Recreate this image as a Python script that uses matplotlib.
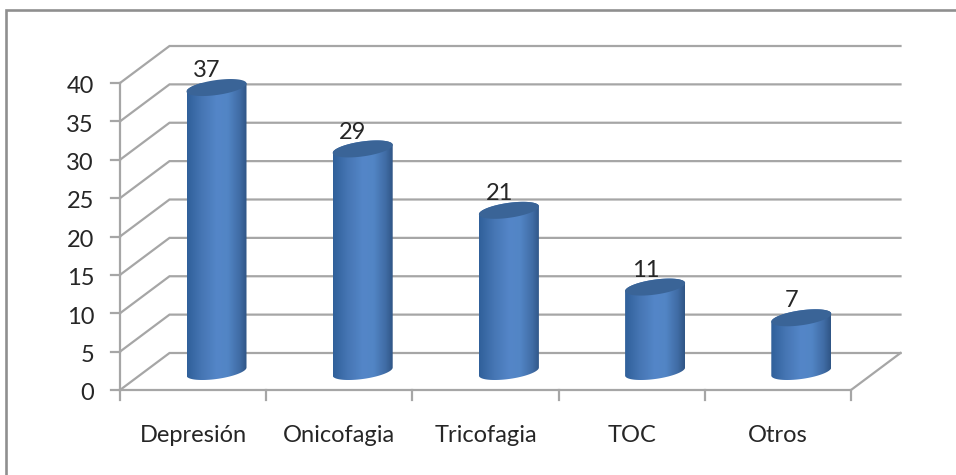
import numpy as np
import matplotlib
matplotlib.use('Agg')
import matplotlib.pyplot as plt
from matplotlib.colors import LinearSegmentedColormap
from matplotlib.lines import Line2D
from matplotlib.patches import Polygon

plt.rcParams['font.family'] = ['Lato', 'DejaVu Sans']

categorias = ['Depresión', 'Onicofagia', 'Tricofagia', 'TOC', 'Otros']
valores = [37, 29, 21, 11, 7]
ticks_y = [0, 5, 10, 15, 20, 25, 30, 35, 40]

W, H = 956, 475
GRIS = '#a6a6a6'
TEXTO = '#262626'
FUENTE = 17

fig = plt.figure(figsize=(W / 100, H / 100), dpi=100)

# marco exterior: solo arriba e izquierda
fig.add_artist(Line2D([5.5 / W, 5.5 / W, 1], [0, 1 - 9.5 / H, 1 - 9.5 / H], color='#8f8f8f',
                      lw=1.9, solid_joinstyle='miter', transform=fig.transFigure))

# el plano frontal del 3D es el eje normal
ax = fig.add_axes([120 / W, 1 - 390 / H, 731 / W, 307 / H])
ax.set_xlim(0, len(categorias))
ax.set_ylim(0, 40)
ax.axis('off')

px_x = len(categorias) / 731
px_y = 40 / 307
fondo_x = 49.5 * px_x
fondo_y = 37 * px_y

# paredes: lineas de fondo y diagonales
for t in ticks_y:
    ax.plot([0, fondo_x, len(categorias) + fondo_x], [t, t + fondo_y, t + fondo_y],
            color=GRIS, lw=1.6, clip_on=False, solid_joinstyle='miter', zorder=1)
    ax.plot([-9 * px_x, 0], [t, t], color=GRIS, lw=1.6, clip_on=False, zorder=1)
ax.plot([0, 0], [0, 40], color=GRIS, lw=1.6, clip_on=False, zorder=1)

# piso
n = len(categorias)
ax.plot([0, n, n + fondo_x], [0, 0, fondo_y], color=GRIS, lw=1.6, clip_on=False, zorder=1)
for i in range(n + 1):
    ax.plot([i, i], [0, -10 * px_y], color=GRIS, lw=1.6, clip_on=False, zorder=1)

cmap = LinearSegmentedColormap.from_list('cilindro', [
    (0.0, '#30609a'), (0.25, '#4676b4'), (0.5, '#5486c8'), (0.68, '#5285c5'),
    (0.88, '#406ca5'), (1.0, '#2f5585')])
gradiente = np.linspace(0, 1, 256).reshape(1, -1)

a = 30 * px_x
b = 7.5 * px_y
incl = 4 * px_y
t = np.linspace(0, 2 * np.pi, 200)


def elipse(cx, cy, ang):
    return cx + a * np.cos(ang), cy + incl * np.cos(ang) + b * np.sin(ang)


for i, v in enumerate(valores):
    cx = i + 0.5 + 23.4 * px_x
    cy0 = fondo_y / 2

    # cuerpo del cilindro con degradado horizontal
    x_inf, y_inf = elipse(cx, cy0, np.linspace(np.pi, 2 * np.pi, 100))
    x_sup, y_sup = elipse(cx, cy0 + v, np.linspace(0, np.pi, 100))
    cuerpo = Polygon(np.column_stack([np.r_[x_inf, x_sup], np.r_[y_inf, y_sup]]),
                     transform=ax.transData, facecolor='none', edgecolor='none')
    ax.add_patch(cuerpo)
    im = ax.imshow(gradiente, cmap=cmap, aspect='auto', zorder=3, interpolation='bilinear',
                   extent=[cx - a, cx + a, 0, cy0 + v + b + incl])
    im.set_clip_path(cuerpo)

    # tapa superior
    xe, ye = elipse(cx, cy0 + v, t)
    ax.fill(xe, ye, color='#3a6497', lw=0, zorder=4, clip_on=False)

    ax.annotate(str(v), (cx, cy0 + v), xytext=(-7, 7.5), textcoords='offset points',
                ha='center', va='baseline', fontsize=FUENTE, color=TEXTO, zorder=5)

ax.set_xlim(0, n)
ax.set_ylim(0, 40)

for t_y in ticks_y:
    ax.annotate(str(t_y), (0, t_y), xytext=(-18.7, -7.4), textcoords='offset points',
                ha='right', va='baseline', fontsize=FUENTE, color=TEXTO)

for i, c in enumerate(categorias):
    ax.annotate(c, (i + 0.5, 0), xytext=(0, -37.4), textcoords='offset points',
                ha='center', va='baseline', fontsize=FUENTE, color=TEXTO)

fig.savefig('out.png', dpi=100, facecolor='white')
